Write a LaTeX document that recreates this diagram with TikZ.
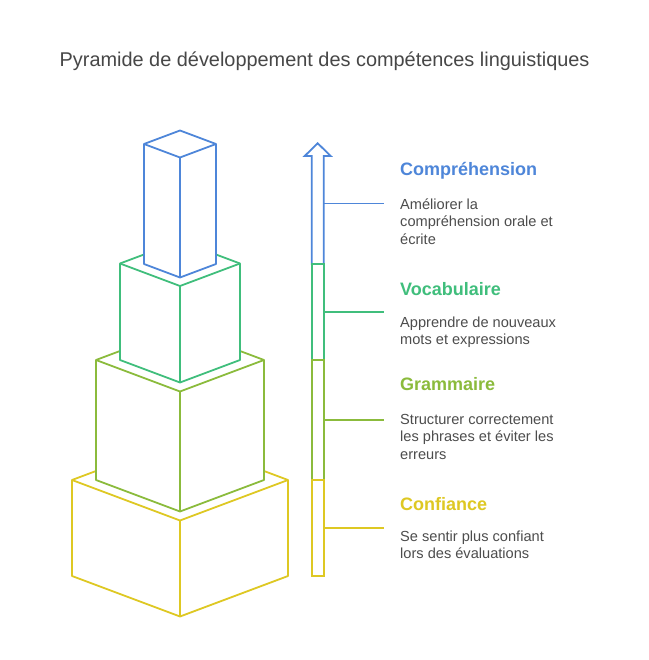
\documentclass[tikz,border=0pt]{standalone}
\usepackage{fontspec}
\setmainfont{Liberation Sans}
\definecolor{cblue}{HTML}{4E86D9}
\definecolor{cgreen}{HTML}{40BE7C}
\definecolor{colive}{HTML}{8BBB3C}
\definecolor{cyellow}{HTML}{DEC823}
\definecolor{ctext}{HTML}{4D4D4D}
\definecolor{ctitle}{HTML}{474747}
\tikzset{
  boxline/.style={line width=1.8pt, line join=round},
  arrowline/.style={line width=1.8pt, line join=miter},
  conn/.style={line width=1.7pt},
  heading/.style={anchor=base west, inner sep=0pt, font=\fontsize{18}{21}\selectfont\bfseries},
  desc/.style={anchor=north west, inner sep=0pt, align=left, text=ctext, font=\fontsize{14.6}{17.6}\selectfont},
}
\newcommand\isobox[5]{%
  \pgfmathsetmacro\bd{0.375*#4}%
  \filldraw[boxline, draw=#5, fill=white] (#1-#4,#2) -- (#1,#2-\bd) -- (#1+#4,#2) -- (#1+#4,#3) -- (#1,#3+\bd) -- (#1-#4,#3) -- cycle;
  \draw[boxline, draw=#5] (#1-#4,#2) -- (#1,#2+\bd) -- (#1+#4,#2) (#1,#2+\bd) -- (#1,#3+\bd);
}
\begin{document}
\begin{tikzpicture}[x=1pt,y=-1pt]
\useasboundingbox[fill=white] (0,0) rectangle (648,660);
% title
\node[anchor=base, inner sep=0pt, text=ctitle, font=\fontsize{19.9}{24}\selectfont] (title) at (324.6,66.5) {Pyramide de développement des compétences linguistiques};
% stacked boxes
\isobox{180}{480}{576}{108}{cyellow}
\isobox{180}{360}{480}{84}{colive}
\isobox{180}{263.5}{360}{60}{cgreen}
\isobox{180}{144}{264}{36}{cblue}
% arrow segments
\draw[arrowline, cblue] (311.7,264) -- (311.7,156) -- (304.7,156) -- (317.7,143.3) -- (330.7,156) -- (323.7,156) -- (323.7,264) -- cycle;
\draw[arrowline, cgreen] (311.7,264) rectangle (323.7,360);
\draw[arrowline, colive] (311.7,360) rectangle (323.7,480);
\draw[arrowline, cyellow] (311.7,480) rectangle (323.7,576);
% anchor coordinates
\coordinate (a1) at (323.7,203.5);
\coordinate (a2) at (323.7,311.7);
\coordinate (a3) at (323.7,420);
\coordinate (a4) at (323.7,527.7);
\coordinate (e1) at (384,203.5);
\coordinate (e2) at (384,311.7);
\coordinate (e3) at (384,420);
\coordinate (e4) at (384,527.7);
\draw[conn, cblue] (a1) -- (e1);
\draw[conn, cgreen] (a2) -- (e2);
\draw[conn, colive] (a3) -- (e3);
\draw[conn, cyellow] (a4) -- (e4);
% headings
\node[heading, text=cblue] (h1) at (400,175.7) {Compréhension};
\node[heading, text=cgreen] (h2) at (400,295) {Vocabulaire};
\node[heading, text=colive] (h3) at (400,390.7) {Grammaire};
\node[heading, text=cyellow] (h4) at (400,510.7) {Confiance};
% descriptions
\node[desc] (d1) at (400,198) {\rule{0pt}{11pt}Améliorer la\\compréhension orale et\\écrite};
\node[desc] (d2) at (400,316) {\rule{0pt}{11pt}Apprendre de nouveaux\\mots et expressions};
\node[desc] (d3) at (400,413) {\rule{0pt}{11pt}Structurer correctement\\les phrases et éviter les\\erreurs};
\node[desc] (d4) at (400,530) {\rule{0pt}{11pt}Se sentir plus confiant\\lors des évaluations};
\end{tikzpicture}
\end{document}
